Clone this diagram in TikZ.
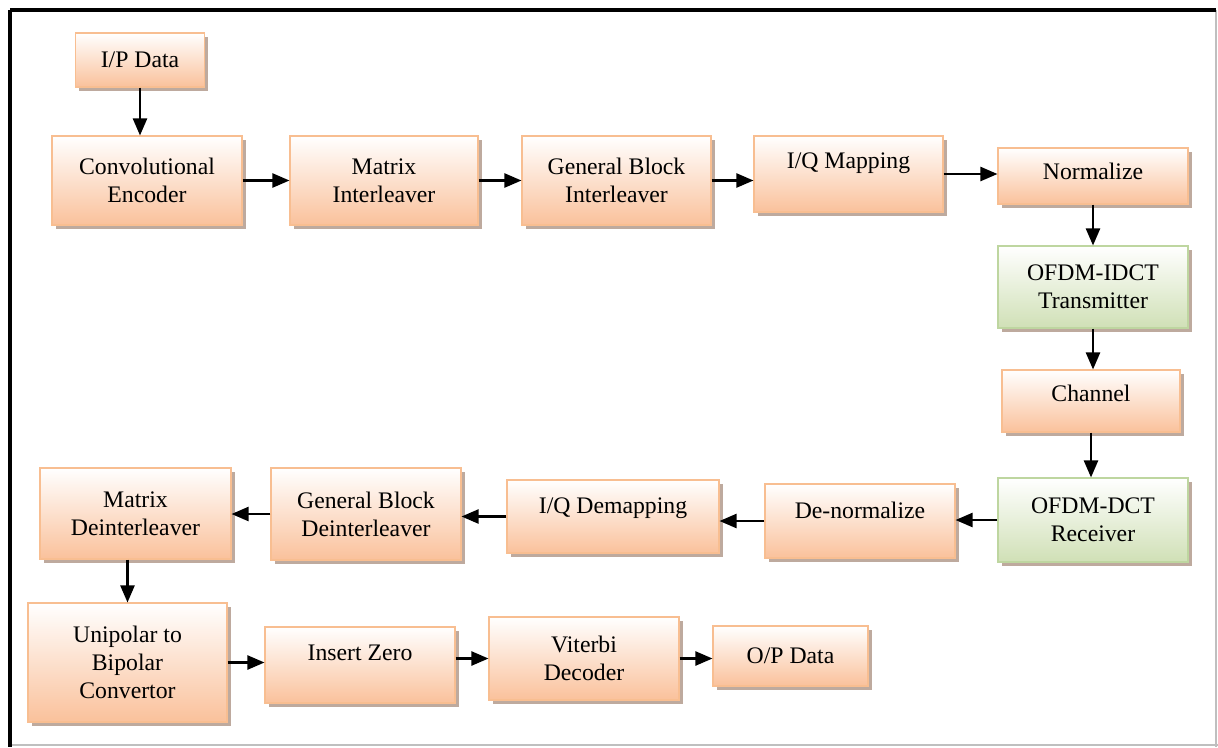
\documentclass[tikz,border=0pt]{standalone}
\usepackage{fontspec}
\setmainfont{Liberation Serif}
\newfontfamily\blkfont{Liberation Serif}
\usetikzlibrary{arrows.meta,shadows}
\definecolor{peach}{RGB}{250,193,155}
\definecolor{peachline}{RGB}{248,190,145}
\definecolor{sage}{RGB}{208,224,182}
\definecolor{sageline}{RGB}{190,214,160}
\definecolor{shade}{RGB}{190,170,158}
\begin{document}
\begin{tikzpicture}[
    blk/.style={draw=peachline, line width=0.6pt, top color=white, bottom color=peach,
        align=center, inner sep=2pt, font=\blkfont\fontsize{13.5}{16}\selectfont,
        drop shadow={shadow xshift=0.07cm, shadow yshift=-0.07cm, fill=shade, opacity=1}},
    gblk/.style={blk, draw=sageline, bottom color=sage},
    raised/.style={text height=0.35cm, text depth=#1},
    arr/.style={line width=1.3pt, -{Triangle[length=0.34cm,width=0.28cm]}}
]
    \useasboundingbox (0,0) rectangle (24.36,-14.94);
    % frame
    \draw[black!25, line width=0.6pt] (24.32,-0.2)--(24.32,-14.94);
    \draw[black!25, line width=0.6pt] (0.2,-14.9)--(24.36,-14.9);
    \draw[line width=2.4pt] (0.2,-0.2)--(24.32,-0.2);
    \draw[line width=2.4pt] (0.2,-0.2)--(0.2,-14.94);

    % transmitter row
    \node[blk, minimum width=2.58cm, minimum height=1.08cm] (ipdata) at (2.8,-1.2) {I/P Data};
    \node[blk, minimum width=3.8cm, minimum height=1.78cm] (conv) at (2.94,-3.61) {Convolutional\\Encoder};
    \node[blk, minimum width=3.76cm, minimum height=1.78cm] (mint) at (7.68,-3.61) {Matrix\\Interleaver};
    \node[blk, minimum width=3.78cm, minimum height=1.78cm] (gbint) at (12.33,-3.61) {General Block\\Interleaver};
    \node[blk, raised=0.59cm, minimum width=3.78cm, minimum height=1.52cm] (iqmap) at (16.97,-3.48) {I/Q Mapping};
    \node[blk, raised=0.23cm, minimum width=3.8cm, minimum height=1.12cm] (norm) at (21.86,-3.52) {Normalize};

    % right column
    \node[gblk, minimum width=3.8cm, minimum height=1.64cm] (idct) at (21.86,-5.74) {OFDM-IDCT\\Transmitter};
    \node[blk, raised=0.35cm, minimum width=3.56cm, minimum height=1.24cm] (chan) at (21.82,-8.02) {Channel};
    \node[gblk, minimum width=3.8cm, minimum height=1.68cm] (dct) at (21.86,-10.4) {OFDM-DCT\\Receiver};

    % receiver row
    \node[blk, raised=0.47cm, minimum width=3.8cm, minimum height=1.48cm] (denorm) at (17.2,-10.42) {De-normalize};
    \node[blk, raised=0.47cm, minimum width=4.24cm, minimum height=1.46cm] (iqdemap) at (12.26,-10.33) {I/Q Demapping};
    \node[blk, minimum width=3.8cm, minimum height=1.84cm] (gbdeint) at (7.32,-10.28) {General Block\\Deinterleaver};
    \node[blk, minimum width=3.82cm, minimum height=1.82cm] (mdeint) at (2.71,-10.27) {Matrix\\Deinterleaver};

    % bottom row
    \node[blk, minimum width=3.98cm, minimum height=2.38cm] (unibi) at (2.55,-13.25) {Unipolar to\\Bipolar\\Convertor};
    \node[blk, raised=0.55cm, minimum width=3.8cm, minimum height=1.52cm] (inszero) at (7.2,-13.3) {Insert Zero};
    \node[blk, minimum width=3.8cm, minimum height=1.66cm] (viterbi) at (11.68,-13.17) {Viterbi\\Decoder};
    \node[blk, minimum width=3.1cm, minimum height=1.2cm] (opdata) at (15.81,-13.12) {O/P Data};

    % arrows
    \draw[arr] (ipdata.south) -- (ipdata.south |- conv.north);
    \draw[arr] (conv.east) -- (conv.east -| mint.west);
    \draw[arr] (mint.east) -- (mint.east -| gbint.west);
    \draw[arr] (gbint.east) -- (gbint.east -| iqmap.west);
    \draw[arr] (iqmap.east) -- (iqmap.east -| norm.west);
    \draw[arr] (norm) -- (idct);
    \draw[arr] (idct.south) -- (idct.south |- chan.north);
    \draw[arr] (chan.south) -- (chan.south |- dct.north);
    \draw[arr] (dct.west) -- (dct.west -| denorm.east);
    \draw[arr] (denorm.west) -- (denorm.west -| iqdemap.east);
    \draw[arr] (iqdemap.west) -- (iqdemap.west -| gbdeint.east);
    \draw[arr] (gbdeint.west) -- (gbdeint.west -| mdeint.east);
    \draw[arr] (unibi.north |- mdeint.south) -- (unibi.north);
    \draw[arr] (unibi.east) -- (unibi.east -| inszero.west);
    \draw[arr] (inszero.east |- viterbi.west) -- (viterbi.west);
    \draw[arr] (viterbi.east) -- (viterbi.east -| opdata.west);
\end{tikzpicture}
\end{document}
